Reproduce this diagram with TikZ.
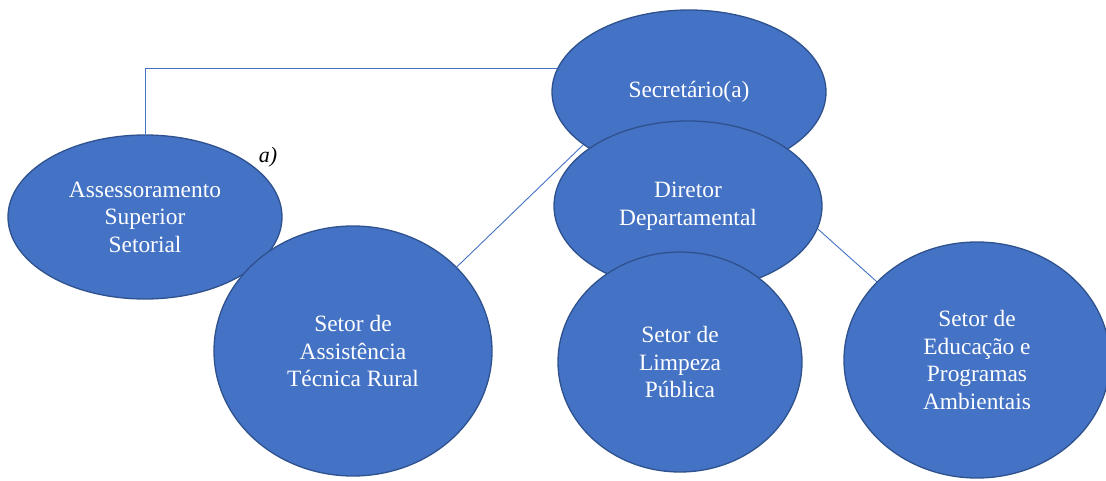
\documentclass[tikz,border=0pt]{standalone}
\usepackage{fontspec}
\setmainfont{Liberation Serif}
\usetikzlibrary{shapes.geometric,backgrounds}
\definecolor{unitfill}{HTML}{4472C4}
\definecolor{unitline}{HTML}{2F528F}
\begin{document}
\begin{tikzpicture}
		[x=1pt,y=-1pt,
		unit/.style={ellipse,draw=unitline,line width=1.3pt,fill=unitfill,text=white,align=center,inner sep=0pt,font=\fontsize{23.4}{27.5}\selectfont},
		link/.style={draw=unitfill,line width=0.9pt}]
		\useasboundingbox (0,0) rectangle (1106,481);

		\node[unit,minimum width=274pt,minimum height=164pt] (n1) at (689,92) {Secretário(a)};
		\node[unit,minimum width=268pt,minimum height=170pt] (n2) at (688,206) {Diretor\\Departamental};
		\node[unit,minimum width=274pt,minimum height=164pt] (n3) at (145,217) {Assessoramento\\Superior\\Setorial};
		\node[unit,minimum width=278pt,minimum height=250pt] (n4) at (353,351) {Setor de\\Assistência\\Técnica Rural};
		\node[unit,minimum width=244pt,minimum height=220pt] (n5) at (680,362) {Setor de\\Limpeza\\Pública};
		\node[unit,minimum width=266pt,minimum height=236pt] (n6) at (977,360) {Setor de\\Educação e\\Programas\\Ambientais};
		\node[font=\itshape\fontsize{22}{26}\selectfont] (n7) at (268,157) {a)};
		\coordinate (c1) at (583,145);

		\begin{pgfonlayer}{background}
		\draw[link] (n3.north) |- (n1.170);
		\draw[link] (n4.39) -- (c1);
		\draw[link] (n2.-10) -- (n6.142);
		\end{pgfonlayer}

	\end{tikzpicture}
\end{document}
